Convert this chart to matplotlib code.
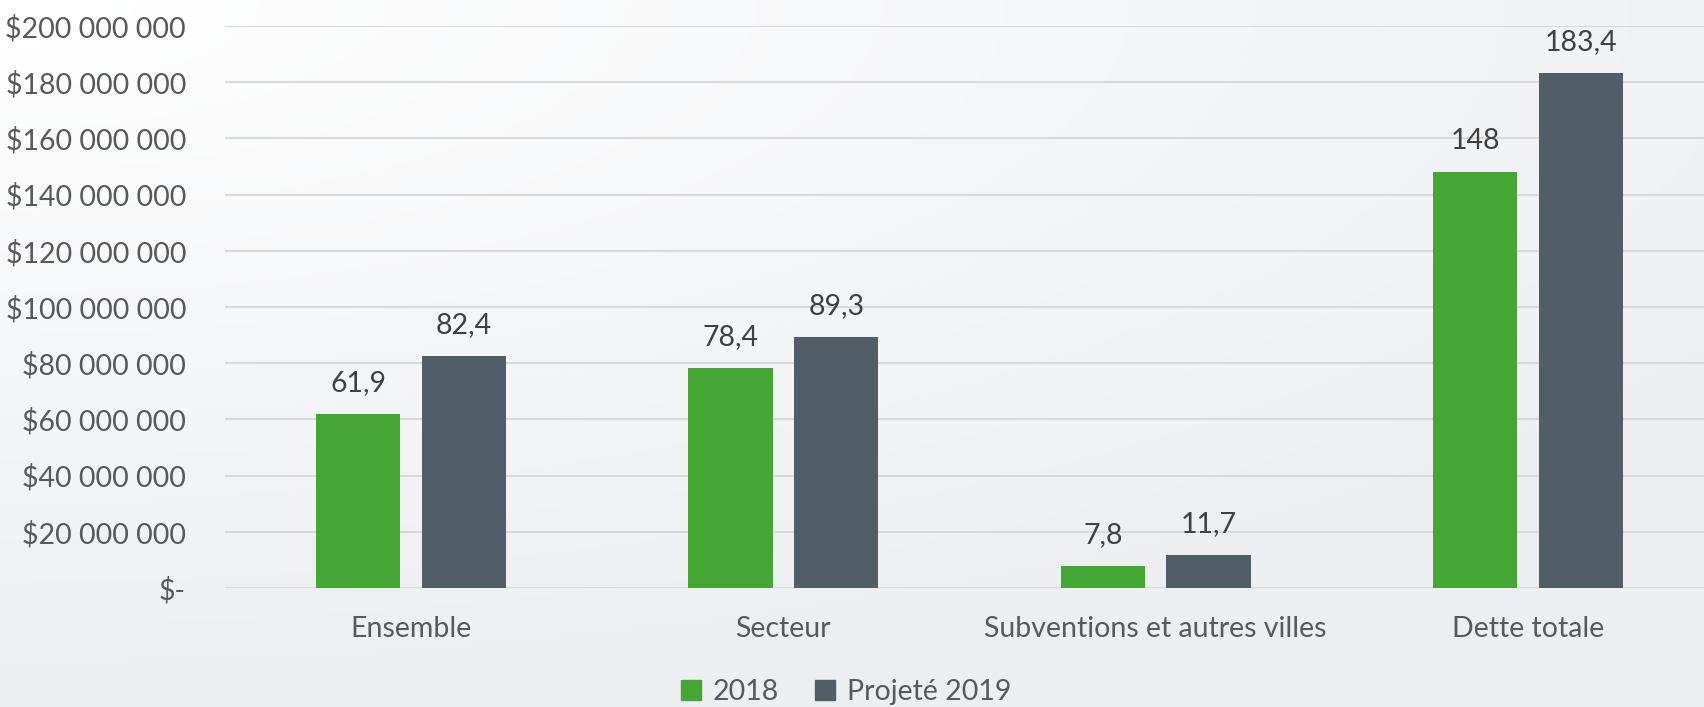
import numpy as np
import matplotlib
matplotlib.use("Agg")
import matplotlib.pyplot as plt
from matplotlib.patches import Patch
from matplotlib.ticker import FuncFormatter
from matplotlib.colors import LinearSegmentedColormap

categories = ["Ensemble", "Secteur", "Subventions et autres villes", "Dette totale"]
series_names = ["2018", "Projeté 2019"]
values_2018 = [61.9, 78.4, 7.8, 148.0]          # millions $
values_2019 = [82.4, 89.3, 11.7, 183.4]
labels_2018 = ["61,9", "78,4", "7,8", "148"]
labels_2019 = ["82,4", "89,3", "11,7", "183,4"]

green = "#46a634"
slate = "#515e68"
text_col = "#595959"
fs = 20.5

plt.rcParams['font.family'] = ['Lato', 'DejaVu Sans']

W, H = 1704, 707
fig = plt.figure(figsize=(W / 100, H / 100), dpi=100)

# soft grey gradient backdrop
bg = fig.add_axes([0, 0, 1, 1], zorder=-10)
yy, xx = np.mgrid[0:1:200j, 0:1:400j]
r = np.sqrt((xx * 0.8) ** 2 + (yy * 1.0) ** 2)
cmap = LinearSegmentedColormap.from_list("bg", ["#ffffff", "#eceef1"])
bg.imshow(np.clip(r / 1.0, 0, 1), cmap=cmap, vmin=0, vmax=1, aspect="auto",
          extent=[0, 1, 1, 0])
bg.axis("off")

left, right = 225 / W, 1714 / W
bottom, top = (H - 588) / H, (H - 26) / H
ax = fig.add_axes([left, bottom, right - left, top - bottom])
ax.patch.set_alpha(0)

x = np.arange(len(categories))
w = 0.226
off = 0.142
v18 = np.array(values_2018) * 1e6
v19 = np.array(values_2019) * 1e6
b1 = ax.bar(x - off, v18, w, color=green, zorder=3)
b2 = ax.bar(x + off, v19, w, color=slate, zorder=3)

for bars, labs in ((b1, labels_2018), (b2, labels_2019)):
    for b, lab in zip(bars, labs):
        ax.annotate(lab, (b.get_x() + b.get_width() / 2, b.get_height()),
                    xytext=(0, 13), textcoords="offset points",
                    ha="center", va="bottom", fontsize=fs, color="#404040")

ax.set_xlim(-0.5, 3.5)
ax.set_ylim(0, 200e6)
ax.set_yticks(np.arange(0, 200e6 + 1, 20e6))


def money(v, pos):
    if v == 0:
        return "$-"
    return "$" + f"{int(v):,}".replace(",", " ")


ax.yaxis.set_major_formatter(FuncFormatter(money))
ax.set_xticks(x)
ax.set_xticklabels(categories)
ax.tick_params(axis="y", length=0, pad=28, labelsize=fs, labelcolor=text_col)
ax.tick_params(axis="x", length=0, pad=20, labelsize=fs, labelcolor=text_col)
ax.grid(axis="y", color="#d9d9d9", linewidth=1.5, zorder=0)
for s in ax.spines.values():
    s.set_visible(False)

handles = [Patch(color=green), Patch(color=slate)]
fig.legend(handles, series_names, loc="center", bbox_to_anchor=(846 / W, 1 - 692 / H),
           ncol=2, frameon=False, fontsize=fs, handlelength=0.7, handleheight=0.7,
           handletextpad=0.4, columnspacing=1.3, labelcolor=text_col)

fig.savefig("out.png", dpi=100)
